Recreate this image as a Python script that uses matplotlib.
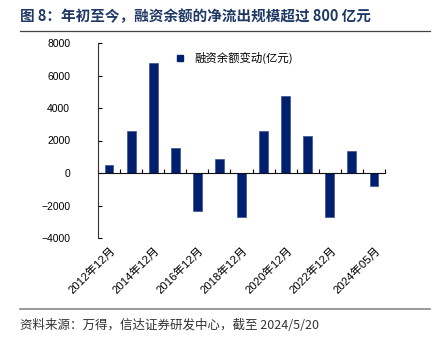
import numpy as np
import matplotlib.pyplot as plt
from matplotlib.lines import Line2D

plt.rcParams['font.family'] = ['Liberation Sans', 'Noto Sans CJK SC', 'DejaVu Sans']

years = ['2012年12月', '2013年12月', '2014年12月', '2015年12月', '2016年12月',
         '2017年12月', '2018年12月', '2019年12月', '2020年12月', '2021年12月',
         '2022年12月', '2023年12月', '2024年05月']
change = [480, 2600, 6750, 1550, -2350, 860, -2720, 2580, 4760, 2290, -2680, 1350, -800]

fig = plt.figure(figsize=(4.35, 3.4), dpi=100)
ax = fig.add_axes([98/435, 1-238/340, 287/435, 195/340])

x = np.arange(len(years))
ax.bar(x, change, width=0.4, color='#001f6e', edgecolor='#3a5290', linewidth=0.5,
       label='融资余额变动(亿元)', zorder=2)

ax.set_xlim(-0.5, len(years) - 0.5)
ax.set_ylim(-4000, 8000)
ax.set_yticks(np.arange(-4000, 8001, 2000))
ax.tick_params(axis='y', direction='in', length=3, labelsize=7.5, pad=20, width=0.8)

ax.spines['top'].set_visible(False)
ax.spines['right'].set_visible(False)
ax.spines['bottom'].set_position(('data', 0))
ax.spines['left'].set_color('#333333')
ax.spines['bottom'].set_color('#111111')
ax.spines['left'].set_linewidth(0.8)

ax.set_xticks(np.arange(-0.5, len(years), 1), minor=True)
ax.set_xticks(x[::2])
ax.tick_params(axis='x', which='minor', direction='in', length=3, width=0.8)
ax.tick_params(axis='x', which='major', length=0, pad=0)
ax.set_xticklabels([])
for i in x[::2]:
    ax.annotate(years[i], xy=(i, 0), xycoords=('data', 'axes fraction'),
                xytext=(0.5, -5), textcoords='offset points', rotation=45,
                ha='right', va='top', rotation_mode='anchor', fontsize=8.2)

handle = Line2D([], [], marker='s', linestyle='none', color='#001f6e', markersize=5)
ax.legend([handle], ['融资余额变动(亿元)'], loc='upper left', bbox_to_anchor=(0.23, 0.98),
          frameon=False, handletextpad=0.3, borderaxespad=0,
          prop={'family': ['Noto Sans CJK SC'], 'size': 8.2})

fig.text(20/435, 1-16/340, '图 8：年初至今，融资余额的净流出规模超过 800 亿元',
         fontsize=10.5, fontweight='bold', color='#1f3864', va='center',
         family=['Noto Sans CJK SC', 'DejaVu Sans'])
fig.add_artist(Line2D([20/435, 430/435], [1-31/340, 1-31/340], color='#444444', linewidth=0.9))
fig.add_artist(Line2D([20/435, 430/435], [1-309/340, 1-309/340], color='#888888', linewidth=1.2))
fig.text(20/435, 1-325/340, '资料来源：万得，信达证券研发中心，截至 2024/5/20',
         fontsize=9, style='italic', color='#333333', va='center',
         family=['Noto Sans CJK SC', 'DejaVu Sans'])

fig.savefig('out.png', dpi=100)
